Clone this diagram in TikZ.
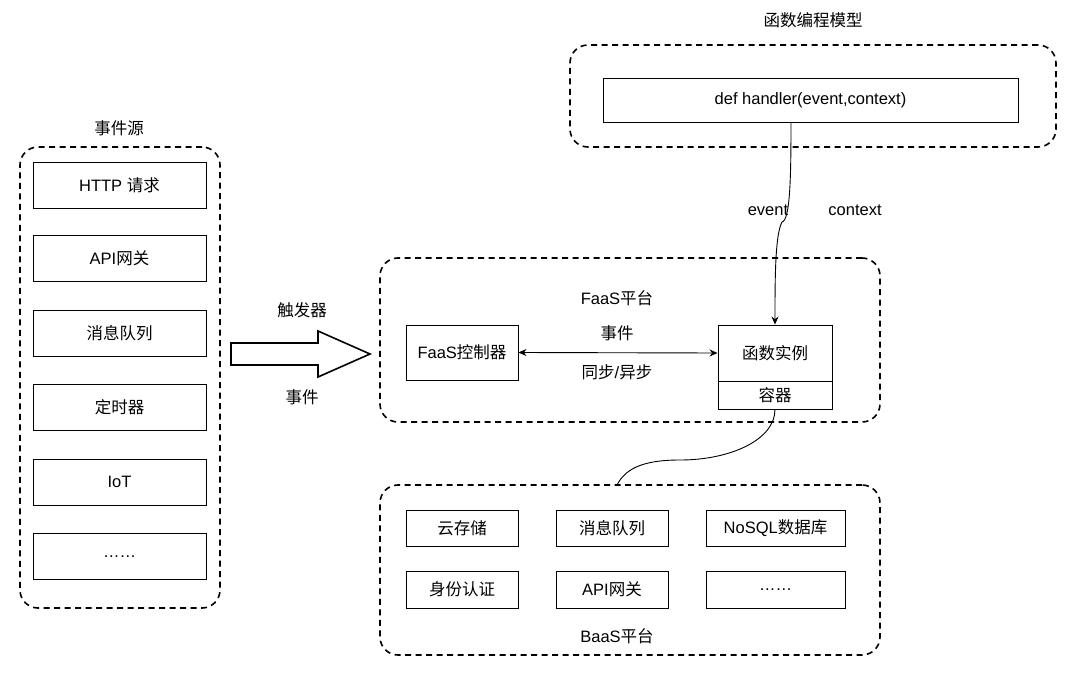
\documentclass[tikz,border=0pt]{standalone}
\usepackage{fontspec}
\usetikzlibrary{arrows.meta}
\setmainfont{Liberation Sans}
\newfontfamily\cjk{Noto Sans CJK SC}
\newcommand\zh[1]{{\cjk #1}}
\begin{document}
\begin{tikzpicture}[x=1pt,y=-1pt,font=\fontsize{16.5pt}{19pt}\selectfont,
  grp/.style={draw,line width=1.6pt,rounded corners=18pt,dash pattern=on 6pt off 4.5pt},
  box/.style={draw,line width=0.9pt,rectangle,align=center,inner sep=1pt},
  lbl/.style={inner sep=0},
  arr/.style={line width=0.9pt,>={Stealth[length=8pt,width=7pt]}}]
\useasboundingbox (0,0) rectangle (1080,682);
% event sources
\node[grp,minimum width=200,minimum height=461] (src) at (120,377.5) {};
\node[lbl] (srct) at (119,128) {\zh{事件源}};
\foreach \n/\t/\y in {s1/HTTP \zh{请求}/185, s2/API\zh{网关}/258.5, s3/\zh{消息队列}/333, s4/\zh{定时器}/407, s5/IoT/482, s6/……/556.5}
  \node[box,minimum width=173,minimum height=46] (\n) at (119.5,\y) {\t};
% function model
\node[grp,minimum width=486,minimum height=102] (fm) at (813,96) {};
\node[lbl] (fmt) at (813,20) {\zh{函数编程模型}};
\node[box,minimum width=415,minimum height=44] (dh) at (810.5,100) {def handler(event,context)};
% FaaS
\node[grp,minimum width=500,minimum height=164] (faas) at (630,340) {};
\node[lbl] (faast) at (617,298) {FaaS\zh{平台}};
\node[box,minimum width=112,minimum height=55] (ctl) at (462,352.5) {FaaS\zh{控制器}};
\node[box,minimum width=114,minimum height=56] (inst) at (775,353) {\zh{函数实例}};
\node[box,minimum width=114,minimum height=28] (ctr) at (775,395) {\zh{容器}};
\draw[arr,<->] (ctl.east) -- (inst.west);
\node[lbl] (ev1) at (617,333) {\zh{事件}};
\node[lbl] (sync) at (617,372) {\zh{同步}/\zh{异步}};
% event/context curve
\draw[arr,->] (dh.south -| 791,0) .. controls (791,180) and (790,220) .. (782,222) .. controls (775,235) and (775,280) .. (inst.north);
\node[lbl] (evl) at (768,210) {event};
\node[lbl] (cxl) at (855,210) {context};
% BaaS
\node[grp,minimum width=500,minimum height=170] (baas) at (630,570) {};
\node[lbl] (baast) at (617,636) {BaaS\zh{平台}};
\coordinate (btop) at (617,485);
\draw[line width=0.9pt] (ctr.south) .. controls (775,440) and (730,460) .. (680,460) .. controls (640,460) and (625,470) .. (btop);
\node[box,minimum width=112,minimum height=36] (b1) at (462,528) {\zh{云存储}};
\node[box,minimum width=112,minimum height=36] (b2) at (612,528) {\zh{消息队列}};
\node[box,minimum width=139,minimum height=36] (b3) at (775.5,528) {NoSQL\zh{数据库}};
\node[box,minimum width=112,minimum height=37] (b4) at (462,589.5) {\zh{身份认证}};
\node[box,minimum width=112,minimum height=37] (b5) at (612,589.5) {API\zh{网关}};
\node[box,minimum width=139,minimum height=37] (b6) at (775.5,589.5) {……};
% trigger arrow
\draw[line width=1.6pt] (231,343) -- (318,343) -- (318,331) -- (370,354) -- (318,377) -- (318,365) -- (231,365) -- cycle;
\node[lbl] (trg) at (302,310) {\zh{触发器}};
\node[lbl] (ev2) at (302,397) {\zh{事件}};
\end{tikzpicture}
\end{document}
